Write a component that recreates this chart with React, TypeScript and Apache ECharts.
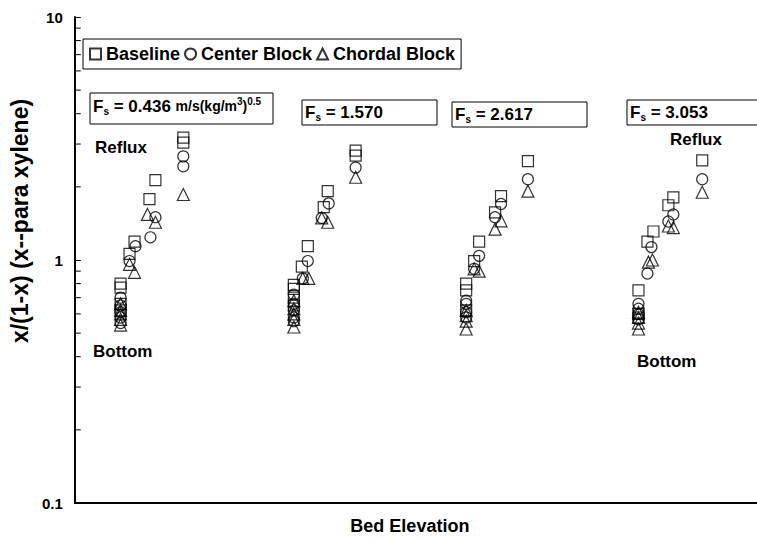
import React, { useEffect, useRef } from "react";
import * as echarts from "echarts";

// Bed elevation position (arbitrary units along the x axis) and x/(1-x) value
const baseline: [number, number][] = [
  [46, 0.8], [46, 0.77], [46, 0.66], [46, 0.62], [55, 1.06], [60, 1.19], [75, 1.78], [81, 2.13], [109, 3.19], [109, 3.04],
  [220, 0.79], [220, 0.76], [220, 0.7], [220, 0.65], [228, 0.94], [234, 1.14], [250, 1.65], [254, 1.92], [282, 2.82], [282, 2.69],
  [393, 0.8], [393, 0.75], [393, 0.62], [401, 0.99], [406, 1.19], [422, 1.57], [428, 1.83], [455, 2.55],
  [566, 0.75], [566, 0.6], [566, 0.58], [575, 1.19], [581, 1.31], [596, 1.68], [601, 1.81], [630, 2.57],
];
const centerBlock: [number, number][] = [
  [46, 0.7], [46, 0.65], [46, 0.61], [46, 0.58], [46, 0.55], [55, 0.99], [61, 1.14], [76, 1.24], [81, 1.5], [109, 2.67], [109, 2.43],
  [220, 0.72], [220, 0.66], [220, 0.62], [220, 0.58], [220, 0.56], [229, 0.84], [234, 0.99], [248, 1.49], [255, 1.71], [282, 2.4],
  [393, 0.68], [393, 0.66], [393, 0.61], [393, 0.58], [401, 0.92], [406, 1.04], [422, 1.5], [428, 1.7], [455, 2.15],
  [566, 0.66], [566, 0.63], [566, 0.6], [566, 0.57], [575, 0.88], [579, 1.13], [596, 1.44], [601, 1.54], [630, 2.15],
];
const chordalBlock: [number, number][] = [
  [46, 0.66], [46, 0.62], [46, 0.6], [46, 0.57], [46, 0.54], [55, 0.96], [60, 0.89], [73, 1.54], [81, 1.43], [109, 1.86],
  [220, 0.68], [220, 0.63], [220, 0.6], [220, 0.57], [220, 0.53], [229, 0.84], [235, 0.84], [248, 1.49], [254, 1.43], [282, 2.19],
  [393, 0.62], [393, 0.59], [393, 0.56], [393, 0.52], [401, 0.92], [406, 0.9], [422, 1.34], [428, 1.45], [455, 1.92],
  [566, 0.61], [566, 0.58], [566, 0.55], [566, 0.52], [576, 0.98], [580, 1.0], [596, 1.38], [601, 1.36], [630, 1.9],
];
const seriesNames = ["Baseline", "Center Block", "Chordal Block"];
const fsValues = ["0.436", "1.570", "2.617", "3.053"];
const minorTickValues = [0.2, 0.3, 0.4, 0.5, 0.6, 0.7, 0.8, 0.9, 2, 3, 4, 5, 6, 7, 8, 9];

const FONT = "Liberation Sans";

const richStyles = {
  f: { fontSize: 17, fontWeight: "bold", fontFamily: FONT, lineHeight: 20, verticalAlign: "middle", color: "#000" },
  sub: { fontSize: 10, fontWeight: "bold", fontFamily: FONT, lineHeight: 10, verticalAlign: "bottom", color: "#000" },
  unit: { fontSize: 14, fontWeight: "bold", fontFamily: FONT, lineHeight: 20, verticalAlign: "middle", color: "#000" },
  sup: { fontSize: 10, fontWeight: "bold", fontFamily: FONT, lineHeight: 10, verticalAlign: "top", color: "#000" },
};

function fsBox(x: number, y: number, w: number, h: number, textY: number, text: string) {
  return {
    type: "group",
    children: [
      { type: "rect", shape: { x, y, width: w, height: h }, style: { fill: "#fff", stroke: "#000", lineWidth: 1 } },
      {
        type: "text",
        x: x + 3,
        y: textY,
        style: { text, rich: richStyles, align: "left", verticalAlign: "middle" },
      },
    ],
  };
}

function label(x: number, y: number, text: string) {
  return {
    type: "text",
    x,
    y,
    style: { text, fontSize: 17, fontWeight: "bold", fontFamily: FONT, fill: "#000", align: "left", verticalAlign: "middle" },
  };
}

const symbolStyle = { color: "rgba(0,0,0,0)", borderColor: "#000", borderWidth: 1.2 };

export default function App() {
  const ref = useRef<HTMLDivElement>(null);
  useEffect(() => {
    if (!ref.current) return;
    const chart = echarts.init(ref.current, null, { renderer: "svg" });
    const option = {
      animation: false,
      backgroundColor: "#fff",
      textStyle: { fontFamily: FONT },
      grid: { left: 72, right: 0, top: 17, bottom: 35 },
      legend: {
        left: 83,
        top: 39,
        orient: "horizontal",
        selectedMode: false,
        backgroundColor: "#fff",
        borderColor: "#000",
        borderWidth: 1,
        borderRadius: 0,
        padding: [6, 6, 6, 6],
        itemGap: 4,
        itemWidth: 11,
        itemHeight: 11,
        textStyle: { fontSize: 18, fontWeight: "bold", color: "#000", fontFamily: FONT },
        data: [
          { name: seriesNames[0], icon: "rect" },
          { name: seriesNames[1], icon: "circle" },
          { name: seriesNames[2], icon: "triangle" },
        ],
      },
      xAxis: {
        type: "value",
        min: 0,
        max: 685,
        name: "Bed Elevation",
        nameLocation: "middle",
        nameGap: 14,
        nameTextStyle: { fontSize: 18, fontWeight: "bold", color: "#000", fontFamily: FONT, padding: [0, 12, 0, 0] },
        axisLine: { show: true, onZero: false, lineStyle: { color: "#000", width: 2 } },
        axisTick: { show: false },
        axisLabel: { show: false },
        splitLine: { show: false },
      },
      yAxis: {
        type: "log",
        logBase: 10,
        min: 0.1,
        max: 10,
        name: "x/(1-x) (x--para xylene)",
        nameLocation: "middle",
        nameRotate: 90,
        nameGap: 27,
        nameTextStyle: { fontSize: 23, fontWeight: "bold", color: "#000", fontFamily: FONT, padding: [0, 0, 0, 78] },
        axisLine: { show: true, lineStyle: { color: "#000", width: 2 } },
        axisTick: { show: true, inside: true, length: 6, lineStyle: { color: "#000", width: 1 } },
        axisLabel: {
          show: true,
          fontSize: 15,
          fontWeight: "bold",
          color: "#000",
          margin: 12,
          fontFamily: FONT,
          formatter: (v: number) => String(v),
        },
        splitLine: { show: false },
      },
      series: [
        { name: seriesNames[0], type: "scatter", symbol: "rect", symbolSize: 11, itemStyle: symbolStyle, data: baseline, z: 3 },
        { name: seriesNames[1], type: "scatter", symbol: "circle", symbolSize: 11, itemStyle: symbolStyle, data: centerBlock, z: 3 },
        { name: seriesNames[2], type: "scatter", symbol: "triangle", symbolSize: 12, itemStyle: symbolStyle, data: chordalBlock, z: 3 },
        {
          name: "minorTicks",
          type: "custom",
          silent: true,
          clip: false,
          data: minorTickValues.map((v) => [0, v]),
          renderItem: (_params: any, api: any) => {
            const p = api.coord([api.value(0), api.value(1)]);
            return {
              type: "line",
              shape: { x1: p[0], y1: p[1], x2: p[0] + 6, y2: p[1] },
              style: { stroke: "#000", lineWidth: 1 },
            };
          },
        },
      ],
      graphic: [
        fsBox(90, 93, 183, 31, 106, `{f|F}{sub|s}{f| = ${fsValues[0]} }{unit|m/s(kg/m}{sup|3}{unit|)}{sup|0.5}`),
        fsBox(302, 100, 135, 25, 112, `{f|F}{sub|s}{f| = ${fsValues[1]}}`),
        fsBox(452, 102, 135, 25, 114, `{f|F}{sub|s}{f| = ${fsValues[2]}}`),
        fsBox(627, 100, 140, 25, 112, `{f|F}{sub|s}{f| = ${fsValues[3]}}`),
        label(95, 147, "Reflux"),
        label(93, 351, "Bottom"),
        label(670, 139, "Reflux"),
        label(637, 361, "Bottom"),
      ],
    };
    chart.setOption(option as any);
    return () => chart.dispose();
  }, []);
  return (
    <div
      ref={ref}
      style={{ position: "fixed", left: 0, top: 0, width: 757, height: 540, background: "#fff" }}
    />
  );
}
